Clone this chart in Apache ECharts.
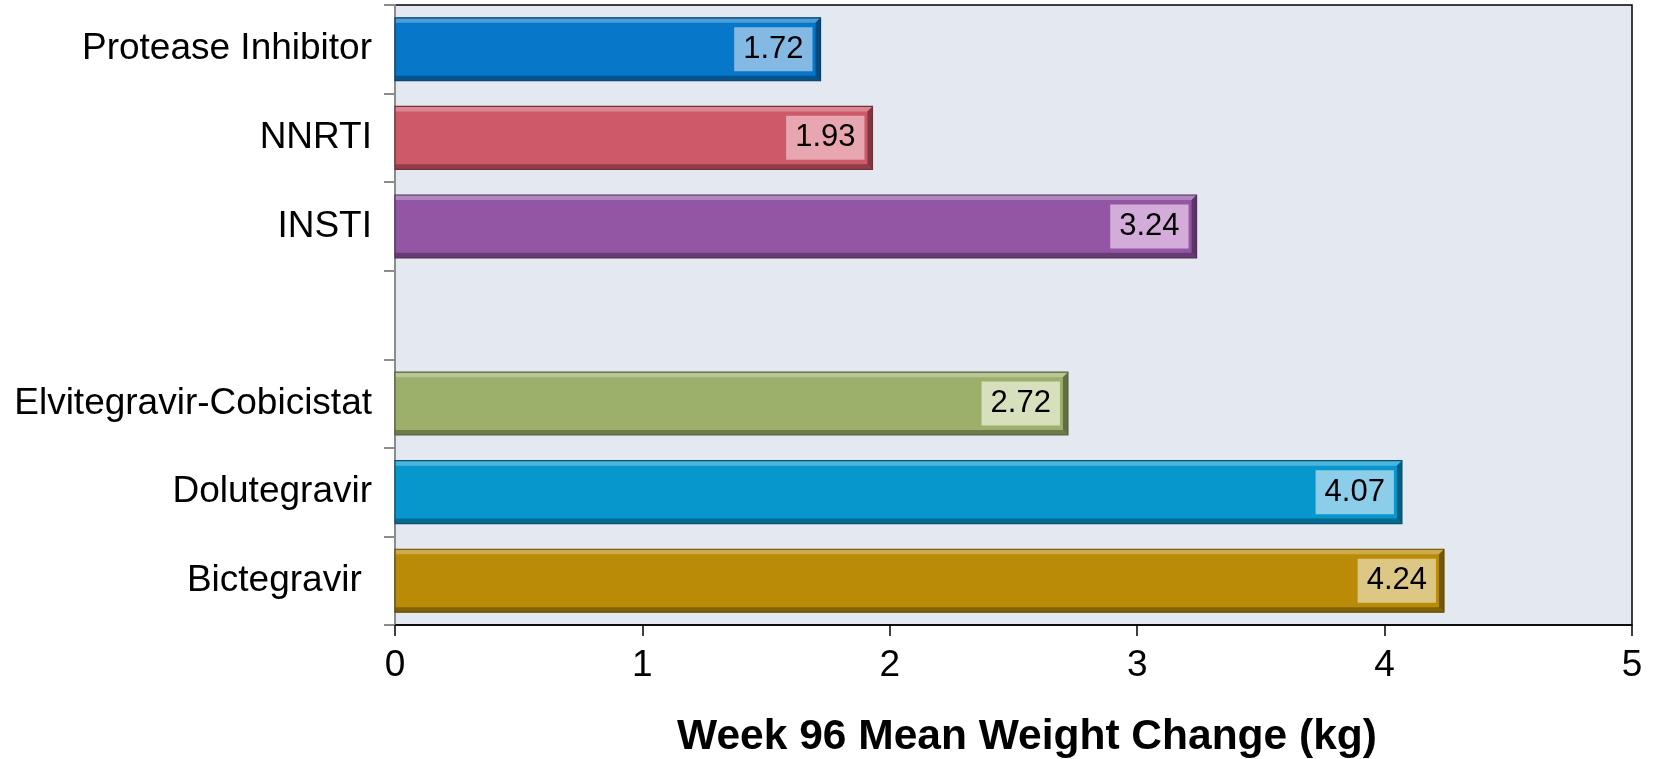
<!DOCTYPE html>
<html>
<head>
<meta charset="utf-8">
<script src="https://cdn.jsdelivr.net/npm/echarts@6/dist/echarts.min.js"></script>
<style>
  html, body { margin: 0; padding: 0; background: #ffffff; }
  #chart { width: 1653px; height: 759px; }
</style>
</head>
<body>
<div id="chart"></div>
<script>
// Regimen groups (blank entry separates drug classes from individual INSTIs)
const categories = ['Protease Inhibitor', 'NNRTI', 'INSTI', '', 'Elvitegravir-Cobicistat', 'Dolutegravir', 'Bictegravir '];
// Mean weight change at week 96, kg
const weightChange = [1.72, 1.93, 3.24, null, 2.72, 4.07, 4.24];
// X-axis range
const xMin = 0, xMax = 5, xStep = 1;

// Bar fill and label-box colours per row
const barColors = ['#0677c9', '#cd5969', '#9356a4', '#000000', '#9caf6b', '#0797cd', '#b98b07'];
const boxColors = ['#84b9e3', '#e7a6b0', '#d3acda', '#000000', '#d7e0bd', '#8ccde9', '#dcc785'];

function mix(hex, target, t) {
  const a = parseInt(hex.slice(1), 16), b = parseInt(target.slice(1), 16);
  const ch = (v, s) => (v >> s) & 255;
  const m = s => Math.round(ch(a, s) + (ch(b, s) - ch(a, s)) * t);
  return 'rgb(' + m(16) + ',' + m(8) + ',' + m(0) + ')';
}

const FONT = '"Liberation Sans", Arial, sans-serif';
const BAR_RATIO = 0.71;

const chart = echarts.init(document.getElementById('chart'), null, { renderer: 'canvas' });

const barData = weightChange.map((v, i) => v == null ? '-' : {
  value: v,
  itemStyle: { color: barColors[i] },
  label: { backgroundColor: boxColors[i] }
});

const bevelData = weightChange
  .map((v, i) => v == null ? null : [v, i])
  .filter(d => d);

chart.setOption({
  animation: false,
  title: {
    text: 'Week 96 Mean Weight Change (kg)',
    left: 1022,
    textAlign: 'center',
    top: 711,
    textStyle: { fontFamily: FONT, fontSize: 42.5, fontWeight: 'bold', color: '#000' }
  },
  grid: {
    left: 395, right: 21, top: 5, bottom: 134,
    show: true,
    backgroundColor: '#e4e8f1',
    borderColor: '#000',
    borderWidth: 1.5
  },
  xAxis: {
    type: 'value',
    min: xMin, max: xMax, interval: xStep,
    axisLine: { show: true, lineStyle: { color: '#000', width: 1.5 } },
    axisTick: { show: true, length: 11, lineStyle: { color: '#000', width: 1.5 } },
    splitLine: { show: false },
    axisLabel: { fontFamily: FONT, fontSize: 37, color: '#000', margin: 22 }
  },
  yAxis: {
    type: 'category',
    data: categories,
    inverse: true,
    axisLine: { show: true, lineStyle: { color: '#8c8c8c', width: 2 } },
    axisTick: { show: true, length: 11, lineStyle: { color: '#8c8c8c', width: 2 } },
    axisLabel: { fontFamily: FONT, fontSize: 37, color: '#000', margin: 23 }
  },
  series: [
    {
      type: 'bar',
      data: barData,
      barCategoryGap: '29%',
      z: 2,
      label: {
        show: true,
        position: 'insideRight',
        distance: 8,
        fontFamily: FONT,
        fontSize: 31,
        color: '#000',
        lineHeight: 32,
        padding: [6, 9, 6, 9],
        formatter: p => p.value.toFixed(2)
      }
    },
    {
      // Bevelled edges on each bar
      type: 'custom',
      z: 3,
      silent: true,
      data: bevelData,
      renderItem: (params, api) => {
        const v = api.value(0), idx = api.value(1);
        const start = api.coord([0, idx]);
        const end = api.coord([v, idx]);
        const h = api.size([0, 1])[1] * BAR_RATIO;
        const x0 = start[0], xe = end[0];
        const y0 = end[1] - h / 2, y1 = end[1] + h / 2;
        const b = 5;
        const base = barColors[idx];
        return {
          type: 'group',
          children: [
            { type: 'polygon', shape: { points: [[x0, y0], [xe, y0], [xe - b, y0 + b], [x0, y0 + b]] },
              style: { fill: mix(base, '#ffffff', 0.28) } },
            { type: 'polygon', shape: { points: [[x0, y1 - b], [xe - b, y1 - b], [xe, y1], [x0, y1]] },
              style: { fill: mix(base, '#000000', 0.3) } },
            { type: 'polygon', shape: { points: [[xe - b, y0 + b], [xe, y0], [xe, y1], [xe - b, y1 - b]] },
              style: { fill: mix(base, '#000000', 0.38) } },
            { type: 'rect', shape: { x: x0, y: y0, width: xe - x0, height: h },
              style: { fill: 'none', stroke: mix(base, '#000000', 0.45), lineWidth: 1.2 } }
          ]
        };
      }
    }
  ]
});
</script>
</body>
</html>
